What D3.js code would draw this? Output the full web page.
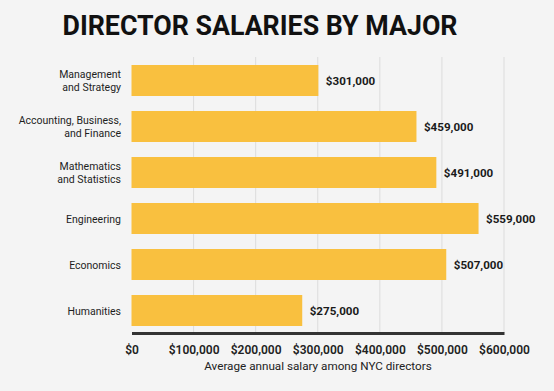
<!DOCTYPE html>
<html><head><meta charset="utf-8">
<script src="https://cdn.jsdelivr.net/npm/d3@7"></script>
<style>
html,body{margin:0;padding:0;background:#f4f4f4;}
svg{display:block;font-family:Roboto, "Noto Sans", sans-serif;}
</style></head>
<body>
<svg id="chart" width="554" height="391"></svg>
<script>
const categories = [["Management","and Strategy"],["Accounting, Business,","and Finance"],["Mathematics","and Statistics"],["Engineering"],["Economics"],["Humanities"]];
const values = [301000, 459000, 491000, 559000, 507000, 275000];
const tickValues = [0, 100000, 200000, 300000, 400000, 500000, 600000];
const titleText = "DIRECTOR SALARIES BY MAJOR";
const axisTitle = "Average annual salary among NYC directors";

const svg = d3.select("#chart");
svg.append("rect").attr("width",554).attr("height",391).attr("fill","#f4f4f4");

const x = d3.scaleLinear().domain([0,600000]).range([131.5,504]);
const y = d3.scaleBand().domain(d3.range(categories.length)).range([65,326]).paddingInner(15/46).paddingOuter(0);

svg.append("text").attr("x",260).attr("y",35).attr("text-anchor","middle")
  .attr("font-size",27).attr("font-weight",700).attr("fill","#111")
  .attr("textLength",395).attr("lengthAdjust","spacingAndGlyphs").text(titleText);

// gridlines
svg.append("g").selectAll("line").data(tickValues.slice(1)).join("line")
  .attr("x1",d=>x(d)).attr("x2",d=>x(d)).attr("y1",57).attr("y2",333)
  .attr("stroke","#dcdcdc").attr("stroke-width",1);

// bars
svg.append("g").selectAll("rect").data(values).join("rect")
  .attr("x",x(0)).attr("y",(d,i)=>y(i)).attr("width",d=>x(d)-x(0)).attr("height",y.bandwidth())
  .attr("fill","#f9c03f");

// value labels
svg.append("g").selectAll("text").data(values).join("text")
  .attr("x",d=>x(d)+7.5).attr("y",(d,i)=>y(i)+y.bandwidth()/2+4)
  .attr("font-size",11.6).attr("font-weight",700).attr("fill","#1a1a1a")
  .text(d=>"$"+d3.format(",")(d));

// category labels
const cl = svg.append("g").selectAll("text").data(categories).join("text")
  .attr("text-anchor","end").attr("font-size",10.5).attr("fill","#1e1e1e");
cl.each(function(lines,i){
  const t = d3.select(this);
  const cy = y(i)+y.bandwidth()/2;
  const lh = 13;
  const start = cy - (lines.length-1)*lh/2 + 4;
  lines.forEach((l,j)=>t.append("tspan").attr("x",121).attr("y",start+j*lh).text(l));
});

// x axis
const xAxis = d3.axisBottom(x).tickValues(tickValues).tickSize(0).tickPadding(12)
  .tickFormat(d=>"$"+d3.format(",")(d));
const ga = svg.append("g").attr("transform","translate(0,333)").call(xAxis);
ga.select(".domain").attr("stroke","#333").attr("stroke-width",3);
ga.selectAll("text").attr("font-size",12).attr("font-weight",600).attr("fill","#222")
  .attr("font-family","Roboto, sans-serif");

svg.append("text").attr("x",318).attr("y",370).attr("text-anchor","middle")
  .attr("font-size",11.7).attr("fill","#222").text(axisTitle);
</script>
</body></html>
